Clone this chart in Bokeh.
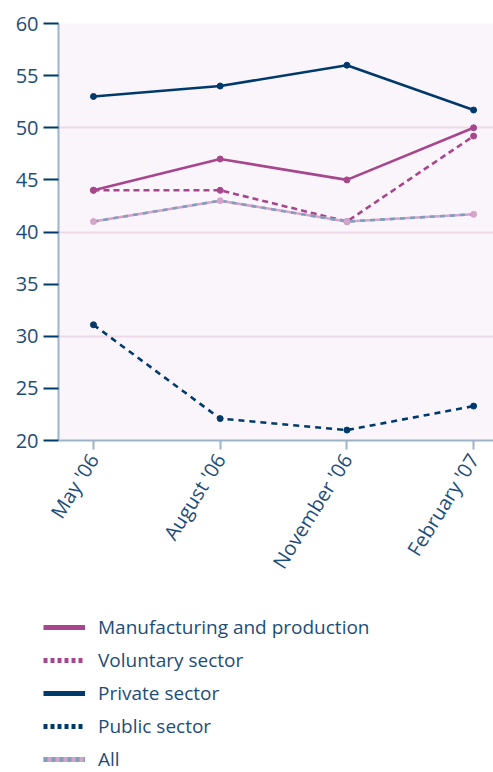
import math
from bokeh.plotting import figure
from bokeh.layouts import column
from bokeh.models import FixedTicker, Legend, LegendItem, ColumnDataSource, Range1d
from bokeh.embed import file_html
from bokeh.resources import INLINE

months = ["May '06", "August '06", "November '06", "February '07"]
manufacturing = [44, 47, 45, 50]
voluntary = [44, 44, 41, 49.2]
private = [53, 54, 56, 51.7]
public = [31.1, 22.1, 21, 23.3]
all_sectors = [41, 43, 41, 41.7]
y_ticks = [20, 25, 30, 35, 40, 45, 50, 55, 60]

NAVY = "#003a6c"
MAGENTA = "#a8468d"
PINK = "#d6a3ca"
STEEL = "#7f9fbd"
TEXT = "#1e4d78"
FONT = "Open Sans"

xs = list(range(len(months)))

p = figure(width=493, height=600, output_backend="svg", toolbar_location=None,
           x_range=Range1d(-0.276, 3.157), y_range=Range1d(20, 60),
           min_border_left=58, min_border_top=23, min_border_right=0,
           min_border_bottom=160)
p.frame_align = False
p.background_fill_color = "#faf5fa"
p.border_fill_color = "white"
p.outline_line_color = None

# grid
p.xgrid.grid_line_color = None
p.ygrid.ticker = FixedTicker(ticks=[30, 40, 50])
p.ygrid.grid_line_color = "#efd9e8"
p.ygrid.grid_line_width = 2

# y axis
p.yaxis.ticker = FixedTicker(ticks=y_ticks)
p.yaxis.axis_line_color = "#9db3c8"
p.yaxis.axis_line_width = 2
p.yaxis.major_tick_line_color = NAVY
p.yaxis.major_tick_line_width = 2
p.yaxis.major_tick_out = 15
p.yaxis.major_tick_in = 0
p.yaxis.minor_tick_line_color = None
p.yaxis.major_label_text_font = FONT
p.yaxis.major_label_text_font_size = "20px"
p.yaxis.major_label_text_color = TEXT
p.yaxis.major_label_standoff = 5

# x axis
p.xaxis.ticker = FixedTicker(ticks=xs)
p.xaxis.major_label_overrides = {i: m for i, m in enumerate(months)}
p.xaxis.axis_line_color = "#9db3c8"
p.xaxis.axis_line_width = 2
p.xaxis.major_tick_line_color = "#9db3c8"
p.xaxis.major_tick_line_width = 2
p.xaxis.major_tick_out = 9
p.xaxis.major_tick_in = 0
p.xaxis.minor_tick_line_color = None
p.xaxis.major_label_orientation = math.radians(58)
p.xaxis.major_label_text_font = FONT
p.xaxis.major_label_text_font_size = "20px"
p.xaxis.major_label_text_color = TEXT
p.xaxis.major_label_standoff = 6

# series
p.line(xs, private, line_color=NAVY, line_width=2.6)
p.scatter(xs, private, size=6, color=NAVY)

p.line(xs, manufacturing, line_color=MAGENTA, line_width=2.6)
p.scatter(xs, manufacturing, size=6, color=MAGENTA)

p.line(xs, voluntary, line_color=MAGENTA, line_width=2.6, line_dash="6 4")
p.scatter(xs, voluntary, size=6, color=MAGENTA)

p.line(xs, public, line_color=NAVY, line_width=2.6, line_dash="6 5")
p.scatter(xs, public, size=6, color=NAVY)

p.line(xs, all_sectors, line_color=PINK, line_width=2.6)
p.line(xs, all_sectors, line_color=STEEL, line_width=2.6, line_dash="5 5")
p.scatter(xs, all_sectors, size=6, color=PINK)

# legend figure
lg = figure(width=493, height=172, output_backend="svg", toolbar_location=None,
            x_axis_type=None, y_axis_type=None,
            x_range=Range1d(0, 1), y_range=Range1d(0, 1),
            min_border_left=0, min_border_right=0, min_border_top=0, min_border_bottom=0)
lg.frame_align = False
lg.outline_line_color = None
lg.xgrid.grid_line_color = None
lg.ygrid.grid_line_color = None
lg.background_fill_color = "white"
lg.border_fill_color = "white"

off = lambda: ColumnDataSource(data=dict(x=[-10], y=[-10]))
l_man = lg.line("x", "y", source=off(), line_color=MAGENTA, line_width=5)
l_vol = lg.line("x", "y", source=off(), line_color=MAGENTA, line_width=5, line_dash="4 3")
l_pri = lg.line("x", "y", source=off(), line_color=NAVY, line_width=5)
l_pub = lg.line("x", "y", source=off(), line_color=NAVY, line_width=5, line_dash="4 3")
l_all1 = lg.line("x", "y", source=off(), line_color=PINK, line_width=5)
l_all2 = lg.line("x", "y", source=off(), line_color=STEEL, line_width=5, line_dash="4 4")

legend = Legend(items=[
    LegendItem(label="Manufacturing and production", renderers=[l_man]),
    LegendItem(label="Voluntary sector", renderers=[l_vol]),
    LegendItem(label="Private sector", renderers=[l_pri]),
    LegendItem(label="Public sector", renderers=[l_pub]),
    LegendItem(label="All", renderers=[l_all1, l_all2]),
], location=(43, 0))
legend.background_fill_alpha = 0
legend.border_line_color = None
legend.padding = 0
legend.margin = 0
legend.spacing = 7
legend.glyph_width = 42
legend.glyph_height = 20
legend.label_height = 20
legend.label_standoff = 13
legend.label_text_font = FONT
legend.label_text_font_size = "19px"
legend.label_text_color = TEXT
lg.add_layout(legend, "center")

layout = column(p, lg, spacing=0)
open("out.html", "w").write(file_html(layout, INLINE))
